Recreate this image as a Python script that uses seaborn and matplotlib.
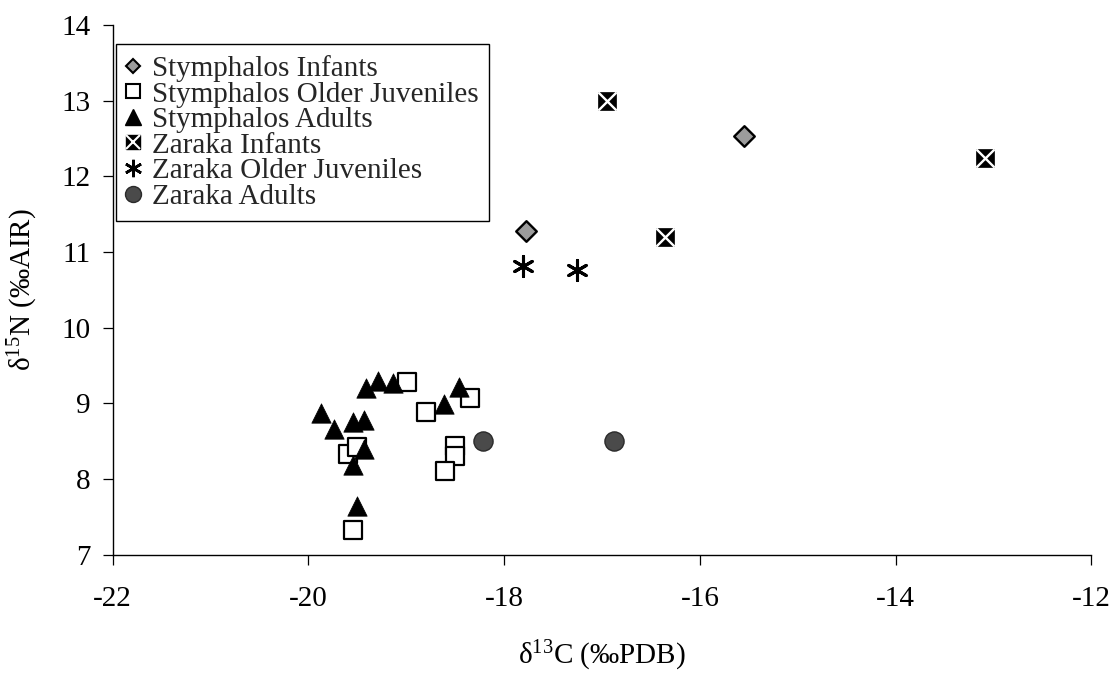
import matplotlib
matplotlib.use("Agg")
import matplotlib.pyplot as plt
from matplotlib.lines import Line2D
import seaborn as sns
import pandas as pd

# ---- data ----
symph_inf_x = [-17.78, -15.55]
symph_inf_y = [11.28, 12.53]

symph_oj_x = [-18.99, -18.80, -18.35, -18.50, -18.50, -18.60, -19.60, -19.50, -19.55]
symph_oj_y = [9.28, 8.89, 9.07, 8.43, 8.30, 8.10, 8.33, 8.42, 7.33]

symph_ad_x = [-19.87, -19.74, -19.55, -19.43, -19.41, -19.29, -19.14, -19.43, -19.54, -19.50, -18.62, -18.46]
symph_ad_y = [8.87, 8.66, 8.75, 8.78, 9.20, 9.30, 9.27, 8.40, 8.18, 7.64, 8.99, 9.22]

zar_inf_x = [-16.95, -16.36, -13.09]
zar_inf_y = [12.99, 11.20, 12.24]

zar_oj_x = [-17.81, -17.26]
zar_oj_y = [10.81, 10.76]

zar_ad_x = [-18.22, -16.88]
zar_ad_y = [8.50, 8.50]

group_names = ["Stymphalos Infants", "Stymphalos Older Juveniles", "Stymphalos Adults",
               "Zaraka Infants", "Zaraka Older Juveniles", "Zaraka Adults"]
xticks = [-22, -20, -18, -16, -14, -12]
yticks = [7, 8, 9, 10, 11, 12, 13, 14]

groups_x = [symph_inf_x, symph_oj_x, symph_ad_x, zar_inf_x, zar_oj_x, zar_ad_x]
groups_y = [symph_inf_y, symph_oj_y, symph_ad_y, zar_inf_y, zar_oj_y, zar_ad_y]
rows = []
for name, xs, ys in zip(group_names, groups_x, groups_y):
    for xv, yv in zip(xs, ys):
        rows.append({"d13C": xv, "d15N": yv, "group": name})
df = pd.DataFrame(rows)

# ---- style ----
sns.set_theme(style="ticks")
plt.rcParams["font.family"] = ["Liberation Serif", "DejaVu Serif"]
plt.rcParams["mathtext.fontset"] = "custom"
plt.rcParams["mathtext.rm"] = "Liberation Serif"
plt.rcParams["mathtext.it"] = "Liberation Serif:italic"
plt.rcParams["mathtext.bf"] = "Liberation Serif:bold"
plt.rcParams["axes.unicode_minus"] = False

fig = plt.figure(figsize=(11.16, 6.73), dpi=100)
ax = fig.add_axes([0.101, 0.176, 0.877, 0.787])

def sub(name):
    return df[df["group"] == name]

sns.scatterplot(data=sub("Stymphalos Infants"), x="d13C", y="d15N", marker="D", s=110,
                color="#9c9c9c", edgecolor="black", linewidth=1.7, ax=ax, zorder=3)
sns.scatterplot(data=sub("Stymphalos Older Juveniles"), x="d13C", y="d15N", marker="s", s=160,
                color="white", edgecolor="black", linewidth=1.6, ax=ax, zorder=3)
sns.scatterplot(data=sub("Stymphalos Adults"), x="d13C", y="d15N", marker="^", s=195,
                color="black", edgecolor="black", linewidth=0.5, ax=ax, zorder=3)
sns.scatterplot(data=sub("Zaraka Infants"), x="d13C", y="d15N", marker="s", s=175,
                color="black", edgecolor="black", linewidth=0.5, ax=ax, zorder=3)
sns.scatterplot(data=sub("Zaraka Infants"), x="d13C", y="d15N", marker="x", s=175,
                color="white", linewidth=1.7, ax=ax, zorder=4)
sns.scatterplot(data=sub("Zaraka Older Juveniles"), x="d13C", y="d15N", marker=(6, 2, 0), s=210,
                color="black", linewidth=2.2, ax=ax, zorder=3)
sns.scatterplot(data=sub("Zaraka Adults"), x="d13C", y="d15N", marker="o", s=190,
                color="#4a4a4a", edgecolor="#2a2a2a", linewidth=1.0, ax=ax, zorder=3)

ax.set_xlim(-22, -12)
ax.set_ylim(7, 14)
ax.set_xticks(xticks)
ax.set_yticks(yticks)
ax.set_xticklabels([str(t) for t in xticks])
ax.set_yticklabels([str(t) for t in yticks])
sns.despine(ax=ax)
for sp in ("left", "bottom"):
    ax.spines[sp].set_linewidth(1.0)
    ax.spines[sp].set_color("black")
ax.tick_params(axis="x", direction="out", length=7, width=0.9, colors="black",
               labelsize=21, pad=16)
ax.tick_params(axis="y", direction="out", length=7, width=0.9, colors="black",
               labelsize=21, pad=9)
ax.set_xlabel(r"δ$^{13}$C (‰PDB)", fontsize=21, labelpad=19, color="black")
ax.set_ylabel(r"δ$^{15}$N (‰AIR)", fontsize=21, labelpad=15, color="black")

# ---- legend ----
handles = [
    Line2D([], [], linestyle="none", marker="D", markersize=7.5, markerfacecolor="#9c9c9c",
           markeredgecolor="black", markeredgewidth=1.5),
    Line2D([], [], linestyle="none", marker="s", markersize=10.5, markerfacecolor="white",
           markeredgecolor="black", markeredgewidth=1.5),
    Line2D([], [], linestyle="none", marker="^", markersize=11.5, markerfacecolor="black",
           markeredgecolor="black"),
    (Line2D([], [], linestyle="none", marker="s", markersize=10.5, markerfacecolor="black",
            markeredgecolor="black"),
     Line2D([], [], linestyle="none", marker="x", markersize=10.5, markeredgecolor="white",
            markeredgewidth=1.5)),
    Line2D([], [], linestyle="none", marker=(6, 2, 0), markersize=12.5, markeredgecolor="black",
           markeredgewidth=1.9),
    Line2D([], [], linestyle="none", marker="o", markersize=11.5, markerfacecolor="#4a4a4a",
           markeredgecolor="#2a2a2a"),
]
leg = ax.legend(handles, group_names, loc="upper left", bbox_to_anchor=(0.0034, 0.964),
                borderaxespad=0, fontsize=21, frameon=True, fancybox=False, shadow=False,
                framealpha=1, edgecolor="black", borderpad=0.38, handlelength=0.42,
                handletextpad=0.42, labelspacing=-0.03)
leg.get_frame().set_linewidth(1.0)

fig.savefig("out.png", dpi=100)
